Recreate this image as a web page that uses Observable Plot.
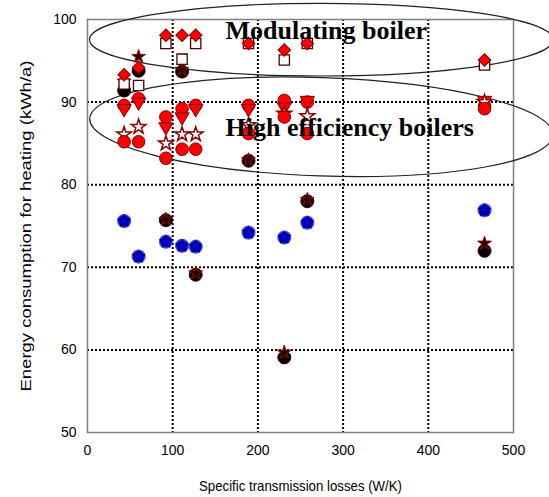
<!DOCTYPE html>
<html><head><meta charset="utf-8">
<script src="https://cdn.jsdelivr.net/npm/d3@7"></script>
<script src="https://cdn.jsdelivr.net/npm/@observablehq/plot@0.6"></script>
<style>body{margin:0;background:#fff;}</style>
</head><body><div id="chart"></div>
<script>
// Specific transmission losses (W/K) of the building variants
const xLosses = [43, 60, 92, 111, 127, 189, 231, 258, 466];
// Energy consumption for heating (kWh/a) per system variant
const modDiamond  = [93.3, 94.2, 98.1, 98.1, 98.1, 97.1, 96.3, 97.1, 95.1];
const modSquare   = [92.2, 92.0, 97.1, 95.2, 97.1, 97.1, 95.1, 97.1, 94.5];
const heCircleUp  = [89.6, 90.4, 88.2, 89.2, 89.6, 89.6, 90.2, 90.0, 89.5];
const heTriangle  = [89.2, 90.0, 87.0, 88.2, 89.2, 89.2, 89.4, 90.2, 90.2];
const heStar      = [86.1, 87.0, 85.0, 86.1, 86.1, 87.2, 88.6, 88.3, 90.0];
const heCircleLow = [85.2, 85.2, 83.2, 84.3, 84.3, 86.2, 88.2, 86.2, 89.2];
const blackCircle = [91.4, 93.8, 75.7, 93.7, 69.1, 82.9, 59.1, 78.0, 72.0];
const darkStar    = [92.5, 95.5, 75.8, 93.9, 69.3, 83.0, 59.7, 78.2, 72.9];
const blueCircle  = [75.6, 71.3, 73.1, 72.6, 72.5, 74.2, 73.6, 75.4, 76.9];

const xTicks = [0, 100, 200, 300, 400, 500];
const yTicks = [50, 60, 70, 80, 90, 100];
const xGrid = [100, 200, 300, 400];
const yGrid = [60, 70, 80, 90];

const labels = ["Modulating boiler", "High efficiency boilers"];
const labelX = [162, 162];
const labelY = [98.6, 86.95];

// annotation ellipses (data units): cx, cy, rx, ry, rotation (deg)
const ellCx = [275, 275];
const ellCy = [97.5, 86.95];
const ellRx = [272, 272];
const ellRy = [4.4, 5.95];
const ellRot = [0, 2];

const rows = ys => xLosses.map((x, i) => ({x, y: ys[i]}));
const sans = "Liberation Sans, Arial, sans-serif";

const plot = Plot.plot({
  width: 549,
  height: 497,
  marginLeft: 87,
  marginRight: 36,
  marginTop: 19,
  marginBottom: 65,
  style: {fontFamily: sans, background: "#fff", overflow: "visible"},
  x: {domain: [0, 500]},
  y: {domain: [50, 100]},
  marks: [
    Plot.gridX(xGrid, {stroke: "#000", strokeOpacity: 1, strokeWidth: 2, strokeDasharray: "2,2"}),
    Plot.gridY(yGrid, {stroke: "#000", strokeOpacity: 1, strokeWidth: 2, strokeDasharray: "2,2"}),
    Plot.frame({stroke: "#808080", strokeWidth: 1.5}),
    Plot.axisX({ticks: xTicks, tickSize: 0, tickPadding: 13, fontSize: 14, fill: "#000", label: null}),
    Plot.axisX({ticks: [], tickSize: 0, fontSize: 15, fill: "#000",
      label: "Specific transmission losses (W/K)", labelAnchor: "center", labelArrow: "none", labelOffset: 58}),
    Plot.axisY({ticks: yTicks, tickSize: 0, tickPadding: 11, fontSize: 14, fill: "#000",
      label: "Energy consumption for heating (kWh/a)", labelAnchor: "center", labelArrow: "none", labelOffset: 66}),
    Plot.dot(rows(blueCircle), {x: "x", y: "y", r: 6.5, fill: "#0000ee", stroke: "#5050ff", strokeWidth: 1.2}),
    Plot.dot(rows(blueCircle), {x: "x", y: "y", r: 4, symbol: "star", fill: "none", stroke: "#000033", strokeWidth: 1}),
    Plot.dot(rows(blackCircle), {x: "x", y: "y", r: 6.5, fill: "#000", stroke: "#300", strokeWidth: 1}),
    Plot.dot(rows(darkStar), {x: "x", y: "y", r: 4.3, symbol: "star", fill: "#200", stroke: "#a00000", strokeWidth: 1}),
    Plot.dot(rows(modSquare), {x: "x", y: "y", r: 5.8, symbol: "square", fill: "#fff", stroke: "#4a0000", strokeWidth: 1.3}),
    Plot.dot(rows(modDiamond), {x: "x", y: "y", r: 5, symbol: "square", rotate: 45, fill: "#ff0000", stroke: "#800000", strokeWidth: 1}),
    Plot.dot(rows(heCircleUp), {x: "x", y: "y", r: 6.3, fill: "#ff0000", stroke: "#800000", strokeWidth: 1}),
    Plot.dot(rows(heTriangle), {x: "x", y: "y", r: 5.3, symbol: "triangle", rotate: 180, fill: "#ff0000", stroke: "#800000", strokeWidth: 1}),
    Plot.dot(rows(heStar), {x: "x", y: "y", r: 4.6, symbol: "star", fill: "#fff", stroke: "#8b0000", strokeWidth: 1.5}),
    Plot.dot(rows(heCircleLow), {x: "x", y: "y", r: 6.3, fill: "#ff0000", stroke: "#800000", strokeWidth: 1}),
    Plot.text(labels, {x: (d, i) => labelX[i], y: (d, i) => labelY[i], text: d => d, textAnchor: "start",
      fontFamily: "Liberation Serif, Times New Roman, serif", fontWeight: "bold", fontSize: 26, fill: "#000"})
  ]
});

document.getElementById("chart").appendChild(plot);

const svg = d3.select(plot);
// axis titles: lengths as in the reference
svg.selectAll('g[aria-label="x-axis label"] text')
  .attr("textLength", 203).attr("lengthAdjust", "spacingAndGlyphs");
svg.selectAll('g[aria-label="y-axis label"] text')
  .attr("textLength", 331).attr("lengthAdjust", "spacingAndGlyphs");

// annotation ellipses placed via the plot's own scales
const sx = plot.scale("x"), sy = plot.scale("y");
const g = svg.insert("g", 'g[aria-label="dot"]').attr("aria-label", "ellipses");
ellCx.forEach((cx, i) => {
  const px = sx.apply(cx), py = sy.apply(ellCy[i]);
  const rx = sx.apply(cx + ellRx[i]) - px;
  const ry = sy.apply(ellCy[i] - ellRy[i]) - py;
  g.append("ellipse")
    .attr("cx", px).attr("cy", py).attr("rx", rx).attr("ry", ry)
    .attr("transform", `rotate(${ellRot[i]},${px},${py})`)
    .attr("fill", "none").attr("stroke", "#222").attr("stroke-width", 1.2);
});
</script>
</body></html>
